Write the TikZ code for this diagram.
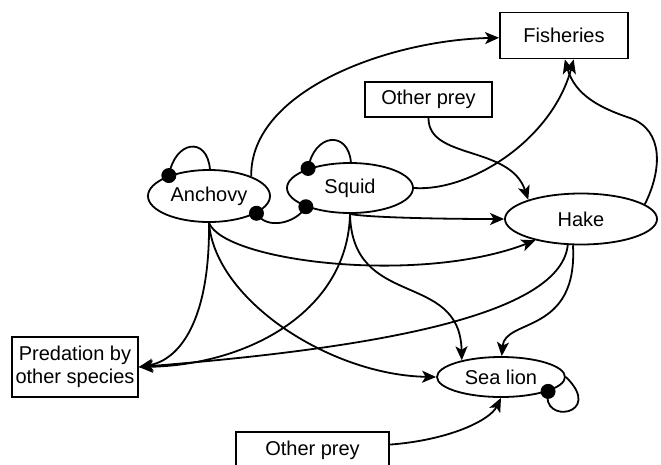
\documentclass[tikz,border=0pt]{standalone}
\usepackage{fontspec}
\setmainfont{Liberation Sans}
\usetikzlibrary{shapes.geometric,arrows.meta}
\tikzset{
  every node/.style={font=\fontsize{20}{23}\selectfont, text=black},
  species/.style={draw, ellipse, line width=1.8pt, inner sep=0pt},
  boxnode/.style={draw, rectangle, line width=1.8pt, inner sep=0pt, align=center},
  link/.style={line width=1.8pt, -{Stealth[length=14pt,width=12pt,inset=3.5pt]}},
  plain/.style={line width=1.8pt},
}
\newcommand{\blob}[1]{\fill #1 circle (7.5pt);}
\begin{document}
\begin{tikzpicture}[x=1pt,y=-1pt]
\useasboundingbox (0,0) rectangle (661,464);
% nodes
\node[species, minimum width=122pt, minimum height=52pt] (anch) at (209,196) {Anchovy};
\node[species, minimum width=126pt, minimum height=50pt] (squid) at (350,188) {Squid};
\node[species, minimum width=152pt, minimum height=51pt] (hake) at (581,219) {Hake};
\node[species, minimum width=128pt, minimum height=40pt] (seal) at (501,377) {Sea lion};
\node[boxnode, minimum width=128pt, minimum height=46pt] (fish) at (564,35.5) {Fisheries};
\node[boxnode, minimum width=127pt, minimum height=35pt] (prey1) at (428.5,99.5) {Other prey};
\node[boxnode, minimum width=126pt, minimum height=60pt] (pred) at (75,367) {Predation by\\other species};
\node[boxnode, minimum width=153pt, minimum height=36pt] (prey2) at (312.5,450) {Other prey};
% self loops and mutual link
\draw[plain] (anch.153) .. controls +(-80:36) and +(-95:33) .. (anch.88);
\draw[plain] (squid.155) .. controls +(-80:36) and +(-95:32) .. (squid.88);
\draw[plain] (anch.-20) to[out=-60,in=-120] (squid.203);
\draw[plain] (seal.-17) .. controls (540,425) and (605,415) .. (seal.east);
\blob{(anch.153)}
\blob{(squid.155)}
\blob{(anch.-20)}
\blob{(squid.203)}
\blob{(seal.-17)}
% to fisheries
\draw[link] (anch.25) .. controls (250,90) and (390,40) .. (fish.182);
\draw[link] (squid.east) .. controls (470,192) and (552,140) .. (fish.-68);
\draw[link] (hake.13) .. controls (662,170) and (664,130) .. (630,118) .. controls (600,108) and (575,95) .. (fish.-88);
% to hake
\draw[link] (prey1.south) .. controls (428,160) and (510,145) .. (hake.160);
\draw[link] (squid.south) .. controls (362,217) and (430,219) .. (hake.west);
\draw[link] (anch.south) .. controls (225,262) and (420,285) .. (hake.205);
% to predation
\draw[link] (anch.south) .. controls (210,320) and (180,360) .. (pred.east);
\draw[link] (squid.south) .. controls (348,310) and (250,365) .. (pred.east);
\draw[link] (hake.243) .. controls (560,320) and (350,350) .. (pred.east);
% to sea lion
\draw[link] (anch.south) .. controls (215,300) and (330,375) .. (seal.west);
\draw[link] (squid.south) .. controls (352,310) and (460,270) .. (seal.157);
\draw[link] (hake.253) .. controls (578,335) and (505,318) .. (seal.88);
\draw[link] (prey2.4) .. controls (450,440) and (490,420) .. (seal.south);
\end{tikzpicture}
\end{document}
